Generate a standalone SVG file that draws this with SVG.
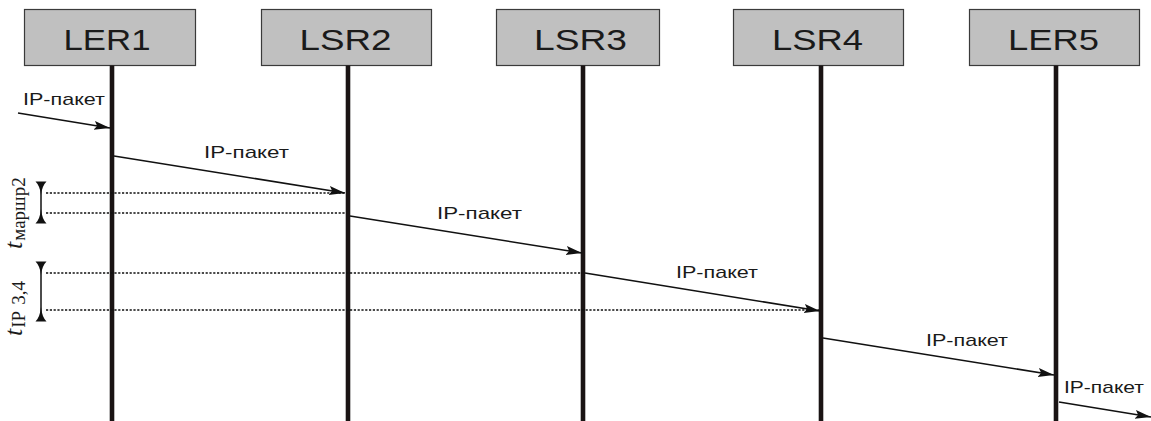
<svg xmlns="http://www.w3.org/2000/svg" width="1151" height="421" viewBox="0 0 1151 421">
  <style>
    .box { fill: #c0c0c0; stroke: #3a3a3a; stroke-width: 1.2; }
    .name { font-family: "Liberation Sans", Arial, sans-serif; font-size: 29px; fill: #1a1a1a; text-anchor: middle; }
    .life { stroke: #1a1414; stroke-width: 4.6; }
    .msg { stroke: #111; stroke-width: 1.6; fill: none; marker-end: url(#head); }
    .lbl { font-family: "Liberation Sans", Arial, sans-serif; font-size: 17px; fill: #1a1a1a; }
    .dot { stroke: #111; stroke-width: 1.6; stroke-dasharray: 2.2 1.6; fill: none; }
    .dim { stroke: #111; stroke-width: 1.5; fill: none; }
    .tip { fill: #111; }
    .sym { font-family: "Liberation Serif", "Times New Roman", serif; fill: #1a1a1a; }
  </style>
  <defs>
    <marker id="head" markerUnits="userSpaceOnUse" markerWidth="18" markerHeight="10" refX="16" refY="4.5" orient="auto">
      <path d="M0,0 L16,4.5 L0,9 L3,4.5 Z" fill="#111"/>
    </marker>
  </defs>

  <!-- stations with their lifelines -->
  <g id="LER1">
    <rect class="box" x="24.5" y="9.5" width="171" height="56"/>
    <line class="life" x1="112" y1="65.5" x2="112" y2="421"/>
    <text class="name" x="107" y="50" textLength="87" lengthAdjust="spacingAndGlyphs">LER1</text>
  </g>
  <g id="LSR2">
    <rect class="box" x="261.5" y="9.5" width="170" height="56"/>
    <line class="life" x1="348" y1="65.5" x2="348" y2="421"/>
    <text class="name" x="345.5" y="50" textLength="92" lengthAdjust="spacingAndGlyphs">LSR2</text>
  </g>
  <g id="LSR3">
    <rect class="box" x="496.5" y="9.5" width="163" height="56"/>
    <line class="life" x1="583" y1="65.5" x2="583" y2="421"/>
    <text class="name" x="580.5" y="50" textLength="93" lengthAdjust="spacingAndGlyphs">LSR3</text>
  </g>
  <g id="LSR4">
    <rect class="box" x="733.5" y="9.5" width="170" height="56"/>
    <line class="life" x1="821" y1="65.5" x2="821" y2="421"/>
    <text class="name" x="817.5" y="50" textLength="91" lengthAdjust="spacingAndGlyphs">LSR4</text>
  </g>
  <g id="LER5">
    <rect class="box" x="969.5" y="9.5" width="170" height="56"/>
    <line class="life" x1="1056" y1="65.5" x2="1056" y2="421"/>
    <text class="name" x="1053.5" y="50" textLength="91" lengthAdjust="spacingAndGlyphs">LER5</text>
  </g>

  <!-- packet transfers -->
  <g id="connectors">
    <line class="msg" x1="18" y1="113" x2="110" y2="128"/>
    <line class="msg" x1="114" y1="156" x2="345" y2="193"/>
    <line class="msg" x1="350" y1="216" x2="582" y2="253"/>
    <line class="msg" x1="585" y1="273" x2="820" y2="311"/>
    <line class="msg" x1="823" y1="338" x2="1054" y2="375"/>
    <line class="msg" x1="1059" y1="402" x2="1151" y2="417"/>
  </g>

  <g id="labels">
    <text class="lbl" x="23" y="105" textLength="82" lengthAdjust="spacingAndGlyphs">IP-пакет</text>
    <text class="lbl" x="204" y="158" textLength="85" lengthAdjust="spacingAndGlyphs">IP-пакет</text>
    <text class="lbl" x="437" y="219" textLength="85" lengthAdjust="spacingAndGlyphs">IP-пакет</text>
    <text class="lbl" x="676" y="278" textLength="82" lengthAdjust="spacingAndGlyphs">IP-пакет</text>
    <text class="lbl" x="926" y="346" textLength="82" lengthAdjust="spacingAndGlyphs">IP-пакет</text>
    <text class="lbl" x="1064" y="393" textLength="80" lengthAdjust="spacingAndGlyphs">IP-пакет</text>
  </g>

  <!-- timing intervals -->
  <g id="interval-route">
    <line class="dot" x1="46" y1="193" x2="344" y2="193"/>
    <line class="dot" x1="46" y1="213" x2="346" y2="213"/>
    <line class="dim" x1="41" y1="183" x2="41" y2="222"/>
    <path class="tip" d="M35.5,181.5 L46.5,181.5 Q42,186 41,195 Q40,186 35.5,181.5 Z"/>
    <path class="tip" d="M35.5,223.5 L46.5,223.5 Q42,219 41,209 Q40,219 35.5,223.5 Z"/>
    <text class="sym" transform="translate(22,249) rotate(-90)"><tspan font-style="italic" font-size="26">t</tspan><tspan font-size="19" dy="3" dx="1">маршр2</tspan></text>
  </g>
  <g id="interval-ip">
    <line class="dot" x1="46" y1="273" x2="582" y2="273"/>
    <line class="dot" x1="46" y1="310" x2="819" y2="310"/>
    <line class="dim" x1="41" y1="263" x2="41" y2="320"/>
    <path class="tip" d="M35.5,261.5 L46.5,261.5 Q42,266 41,275 Q40,266 35.5,261.5 Z"/>
    <path class="tip" d="M35.5,321.5 L46.5,321.5 Q42,317 41,307 Q40,317 35.5,321.5 Z"/>
    <text class="sym" transform="translate(22,336) rotate(-90)"><tspan font-style="italic" font-size="26">t</tspan><tspan font-size="19" dy="3" dx="1">IP</tspan><tspan font-size="19" dx="6">3,4</tspan></text>
  </g>
</svg>
